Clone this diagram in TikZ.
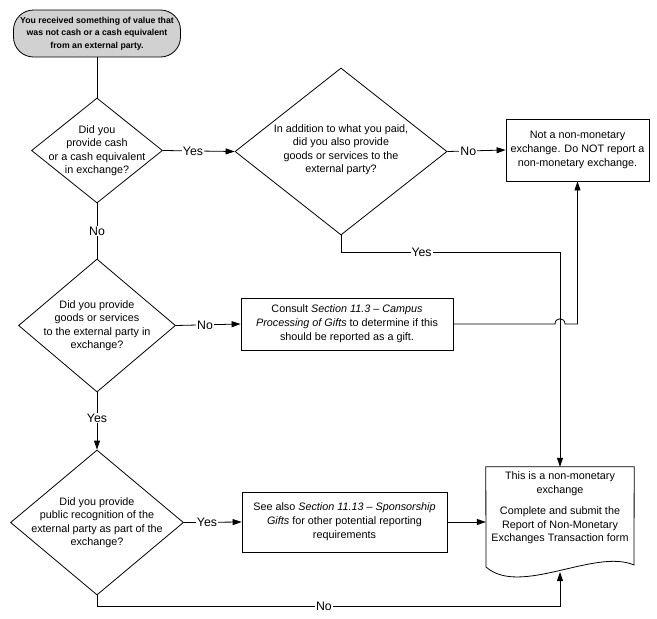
\documentclass[tikz,border=0pt]{standalone}
\usepackage{fontspec}
\setmainfont{Liberation Sans}
\usetikzlibrary{shapes.geometric,arrows.meta,calc}
\begin{document}
\begin{tikzpicture}[x=1pt,y=-1pt,
  line/.style={draw=black,line width=0.8pt},
  arr/.style={line,-{Triangle[length=9pt,width=6pt]}},
  txt/.style={align=center,font=\fontsize{10.8}{13.5}\selectfont,inner sep=0pt},
  dia/.style={diamond,line,inner sep=0pt},
  boxnode/.style={rectangle,line,inner sep=0pt,align=center,font=\fontsize{10.8}{14}\selectfont},
  lab/.style={fill=white,inner sep=1pt,font=\fontsize{12.3}{13}\selectfont},
  startbox/.style={rectangle,rounded corners=20pt,line,fill=black!18,inner sep=0pt,align=center,font=\bfseries\fontsize{8.7}{12.5}\selectfont}]
\useasboundingbox (0,0) rectangle (657,619);

% nodes
\node[startbox,minimum width=167pt,minimum height=47pt] (start) at (97,33.5)
  {You received something of value that\\was not cash or a cash equivalent\\from an external party.};
\node[dia,minimum width=131pt,minimum height=105pt,
  label={[txt]center:{Did you\\provide cash\\or a cash equivalent\\in exchange?}}] (d1) at (97,150.5) {};
\node[dia,minimum width=212pt,minimum height=167pt,
  label={[txt,yshift=2pt]center:{In addition to what you paid,\\did you also provide\\goods or services to the\\external party?}}] (d2) at (341,151.5) {};
\node[boxnode,minimum width=143pt,minimum height=62pt] (box1) at (577.5,150)
  {Not a non-monetary\\exchange. Do NOT report a\\non-monetary exchange.};
\node[dia,minimum width=157pt,minimum height=133pt,
  label={[txt]center:{Did you provide\\goods or services\\to the external party in\\exchange?}}] (d3) at (97,325.5) {};
\node[boxnode,minimum width=212pt,minimum height=52pt] (consult) at (347,324)
  {Consult \textit{Section 11.3 – Campus}\\\textit{Processing of Gifts} to determine if this\\should be reported as a gift.};
\node[dia,minimum width=173pt,minimum height=145pt,
  label={[txt]center:{Did you provide\\public recognition of the\\external party as part of the\\exchange?}}] (d4) at (97,522.5) {};
\node[boxnode,minimum width=205pt,minimum height=60pt] (see) at (344.5,522)
  {See also \textit{Section 11.13 – Sponsorship}\\\textit{Gifts} for other potential reporting\\requirements};
\node[rectangle,inner sep=0pt,minimum width=148pt,minimum height=82pt,align=center,
  font=\fontsize{10.8}{13.5}\selectfont] (doc) at (560,508)
  {This is a non-monetary\\exchange\\[8pt]Complete and submit the\\Report of Non-Monetary\\Exchanges Transaction form};
% document outline
\draw[line] (doc.north west) -- (doc.north east) -- (634,565)
  .. controls (595,548) and (520,597) .. (486,567) -- cycle;

\coordinate (yesturn) at (560,252);
\coordinate (noturn) at (560,606);
\coordinate (docbot) at (560,572);
\coordinate (jumpa) at (555,324);
\coordinate (jumpb) at (565,324);

% connectors
\draw[line] (start.south) -- (d1.north);
\draw[arr] (d1.east) -- node[lab,pos=0.42]{Yes} (d2.west);
\draw[arr] (d2.east) -- node[lab,pos=0.36]{No} (box1.west);
\draw[line] (d1.south) -- node[lab]{No} (d3.north);
\draw[arr] (d3.east) -- node[lab,pos=0.45]{No} (consult.west);
\draw[arr] (d3.south) -- node[lab,pos=0.45]{Yes} (d4.north);
\draw[arr] (d4.east) -- node[lab,pos=0.4]{Yes} (see.west);
\draw[arr] (see.east) -- (see.east -| doc.west);
\draw[arr] (d2.south) |- node[lab,pos=0.684]{Yes} (yesturn) -- (doc.north);
\draw[arr] (consult.east) -- (jumpa) .. controls (555,317) and (565,317) .. (jumpb) -| (box1.south);
\draw[arr] (d4.south) |- node[lab,pos=0.745]{No} (noturn) -- (docbot);
\end{tikzpicture}
\end{document}
